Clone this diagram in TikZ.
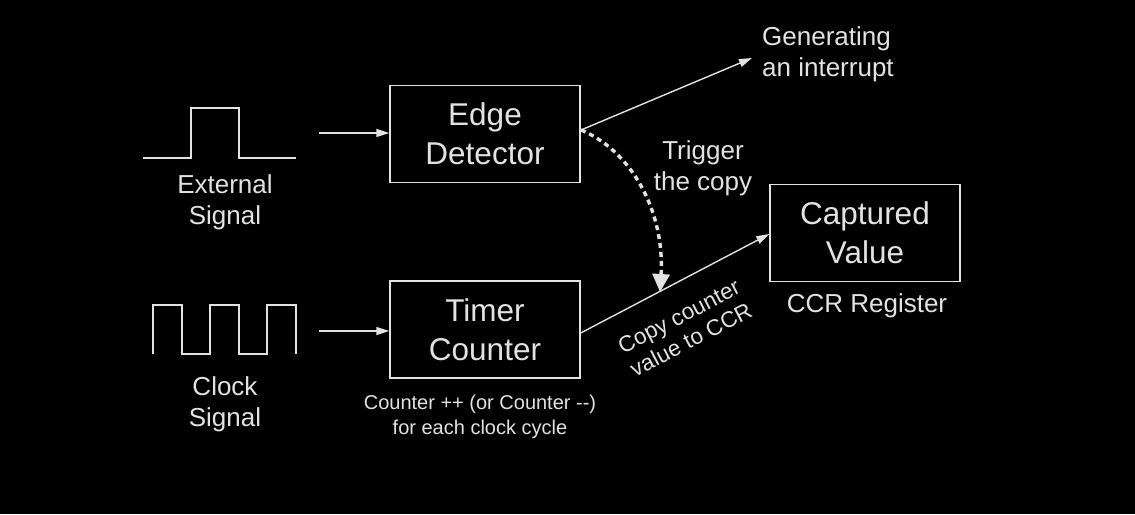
\documentclass[tikz,border=0pt]{standalone}
\usepackage{fontspec}
\setmainfont{Liberation Sans}
\usetikzlibrary{arrows.meta}
\definecolor{fg}{HTML}{E2E2E2}
\tikzset{
  wire/.style={draw=fg, line width=1.4pt},
  conn/.style={wire, -{Triangle[length=13pt,width=8pt,fill=fg]}},
  blk/.style={draw=fg, line width=1.4pt, minimum width=190pt, minimum height=97pt, align=center, text=fg, font=\fontsize{31.5}{39}\selectfont, inner sep=0pt},
  lbl/.style={text=fg, align=center, inner sep=0pt, font=\fontsize{26}{31}\selectfont},
  small/.style={text=fg, align=center, inner sep=0pt, font=\fontsize{20}{25}\selectfont},
}
\begin{document}
\begin{tikzpicture}[x=1pt,y=-1pt]
\fill[black] (0,0) rectangle (1135,514);
\useasboundingbox (0,0) rectangle (1135,514);
% blocks
\node[blk] (edge) at (485,134) {Edge\\Detector};
\node[blk] (timer) at (485,329.5) {Timer\\Counter};
\node[blk] (capt) at (865,233) {Captured\\Value};
% labels
\node[lbl] (ext) at (225,202) {External\\Signal};
\node[lbl] (clk) at (225,404) {Clock\\Signal};
\node[small] (cnt) at (480,417) {Counter ++ (or Counter {-}{-})\\for each clock cycle};
\node[lbl, align=left, anchor=west] (gen) at (762,54) {Generating\\an interrupt};
\node[lbl] (trig) at (703,168) {Trigger\\the copy};
\node[lbl] (ccr) at (867,306) {CCR Register};
\node[small, font=\fontsize{22.5}{26}\selectfont, rotate=27.5] (copy) at (685,328) {Copy counter\\value to CCR};
% signals
\draw[wire] (143,158) -- (191,158) -- (191,108) -- (239,108) -- (239,158) -- (296,158);
\draw[wire] (153,354) -- (153,305) -- (182,305) -- (182,354) -- (210,354) -- (210,305) -- (239,305) -- (239,354) -- (267,354) -- (267,305) -- (296,305) -- (296,354);
% connectors
\coordinate (extout) at (319,133);
\coordinate (clkout) at (319,331);
\coordinate (irq) at (752,58);
\coordinate (edgeout) at (581,130);
\coordinate (trigend) at (660,292);
\draw[conn] (extout) -- (edge.west |- extout);
\draw[conn] (clkout) -- (timer.west |- clkout);
\draw[conn] (edgeout) -- (irq);
\draw[conn] (timer.east |- 0,333) -- (capt.west |- 0,234);
\draw[draw=fg, line width=3.4pt, dash pattern=on 5pt off 4pt, -{Triangle[length=18pt,width=17pt,fill=fg]}]
  (edgeout) .. controls (630,150) and (665,210) .. (trigend);
\end{tikzpicture}
\end{document}
